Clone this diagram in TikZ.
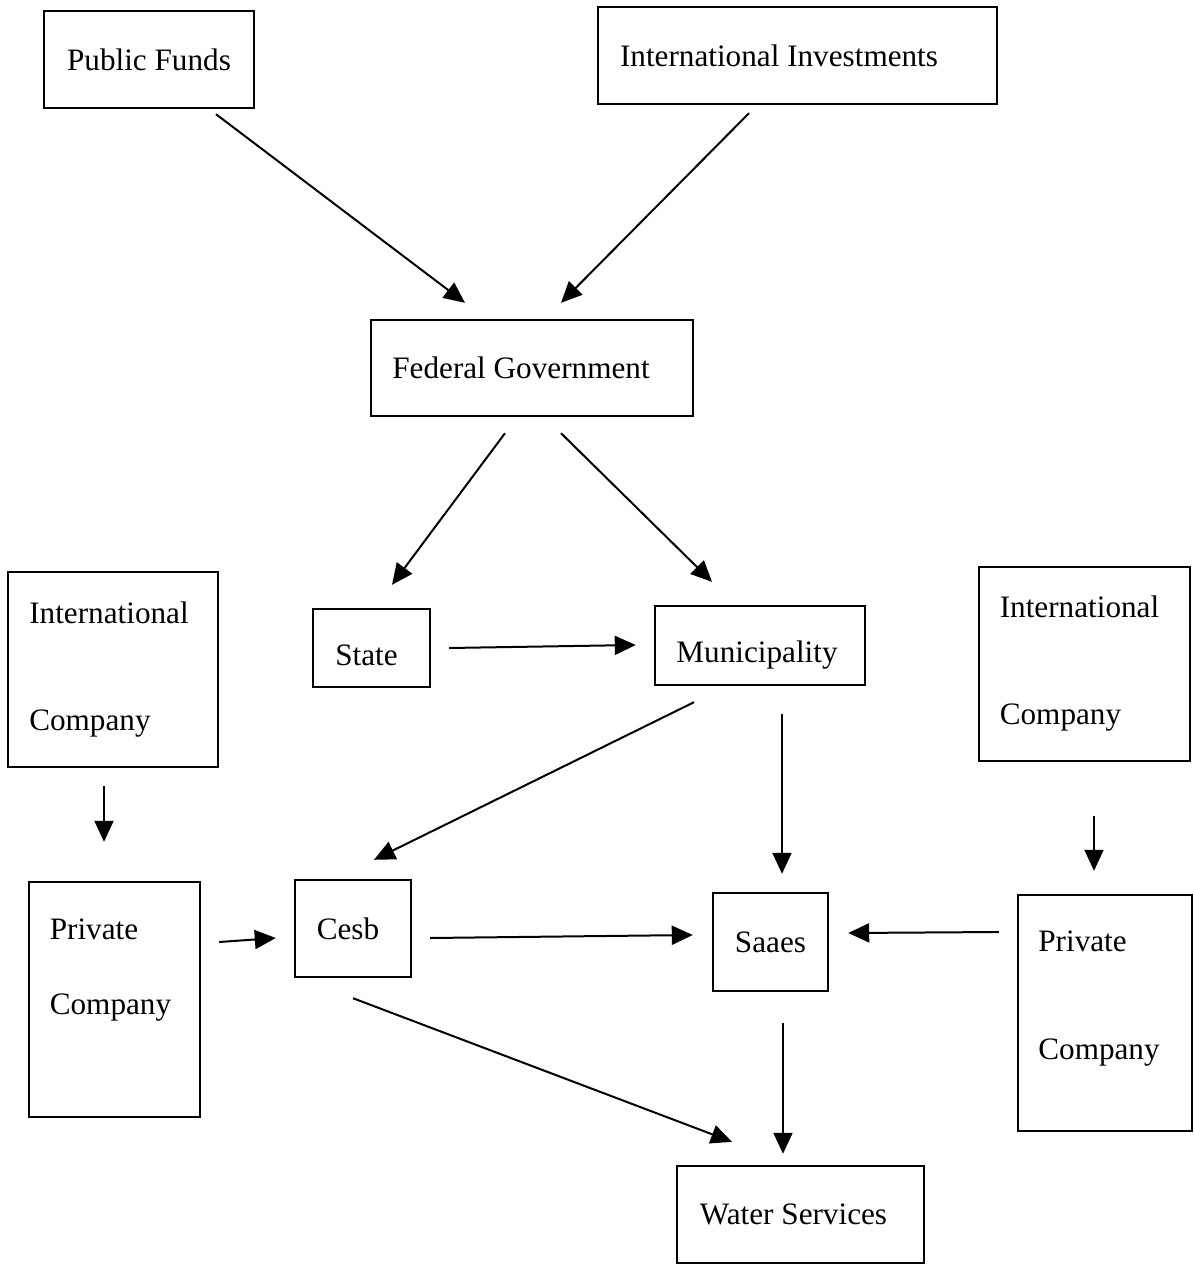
\documentclass[tikz,border=0pt]{standalone}
\usepackage{fontspec}
\setmainfont{Liberation Serif}
\usetikzlibrary{arrows.meta}
\begin{document}
\begin{tikzpicture}
			[x=1pt, y=-1pt, font=\fontsize{31.2}{37}\selectfont,
			block/.style={rectangle, draw, line width=2.4pt, inner sep=0pt},
			flow/.style={-{Triangle[length=21pt,width=19pt]}, line width=2pt}]
			\useasboundingbox (0,0) rectangle (1193,1265);
			\node [block, minimum width=210pt, minimum height=97pt] (pubfunds) at (149,59.5) {Public Funds};
			\node [block, minimum width=399pt, minimum height=97pt] (intinvest) at (797.5,55.5) {International Investments\kern37pt};
			\node [block, minimum width=322pt, minimum height=96pt] (fedgov) at (532,368) {Federal Government\kern22pt};
			\node [block, minimum width=117pt, minimum height=78pt, text height=34.6pt, text depth=0pt] (state) at (371.5,648) {State\kern10pt};
			\node [block, minimum width=210pt, minimum height=79pt, text height=41.5pt, text depth=6.8pt] (municipality) at (760,645.5) {Municipality\kern6pt};
			\node [block, align=left, minimum width=210pt, minimum height=195pt] (intcompanyl) at (113,669.5) {International\kern8pt\\[70pt]Company};
			\node [block, align=left, minimum width=211pt, minimum height=194pt] (intcompanyr) at (1084.5,664) {International\kern10pt\\[70pt]Company};
			\node [block, align=left, minimum width=171pt, minimum height=235pt] (privcompanyl) at (114.5,999.5) {Private\\[38pt]Company\kern8pt\\[28pt]\rule{0pt}{0pt}};
			\node [block, align=left, minimum width=174pt, minimum height=236pt] (privcompanyr) at (1105,1013) {Private\\[71pt]Company\kern12pt\\[-2pt]\rule{0pt}{0pt}};
			\node [block, minimum width=116pt, minimum height=97pt] (cesb) at (353,928.5) {Cesb\kern10pt};
			\node [block, minimum width=115pt, minimum height=98pt] (saaes) at (770.5,942) {Saaes};
			\node [block, minimum width=247pt, minimum height=97pt] (water) at (800.5,1214.5) {Water Services\kern14pt};
			\draw [flow] ([shift={(67,5)}]pubfunds.south) -- ([shift={(-67,-16)}]fedgov.north);
			\draw [flow] ([shift={(-48.5,8)}]intinvest.south) -- ([shift={(29,-16)}]fedgov.north);
			\draw [flow] ([shift={(-27,16)}]fedgov.south) -- ([shift={(20.5,-23)}]state.north);
			\draw [flow] ([shift={(29,16)}]fedgov.south) -- ([shift={(-48,-23)}]municipality.north);
			\draw [flow] ([shift={(18,0)}]state.east) -- ([shift={(-18,-0.5)}]municipality.west);
			\draw [flow] ([shift={(-66,16)}]municipality.south) -- ([shift={(21,-19)}]cesb.north);
			\draw [flow] ([shift={(22,28)}]municipality.south) -- ([shift={(11.5,-18)}]saaes.north);
			\draw [flow] ([shift={(-9,18)}]intcompanyl.south) -- ([shift={(-10.5,-39)}]privcompanyl.north);
			\draw [flow] ([shift={(9.5,54)}]intcompanyr.south) -- ([shift={(-11,-23)}]privcompanyr.north);
			\draw [flow] ([shift={(18,-57.5)}]privcompanyl.east) -- ([shift={(-18,9.5)}]cesb.west);
			\draw [flow] ([shift={(18,9.5)}]cesb.east) -- ([shift={(-19,-7)}]saaes.west);
			\draw [flow] ([shift={(-18,-81)}]privcompanyr.west) -- ([shift={(19,-9)}]saaes.east);
			\draw [flow] ([shift={(0,20)}]cesb.south) -- ([shift={(-68.5,-23)}]water.north);
			\draw [flow] ([shift={(12.5,31)}]saaes.south) -- ([shift={(-17.5,-11)}]water.north);
		\end{tikzpicture}
\end{document}
